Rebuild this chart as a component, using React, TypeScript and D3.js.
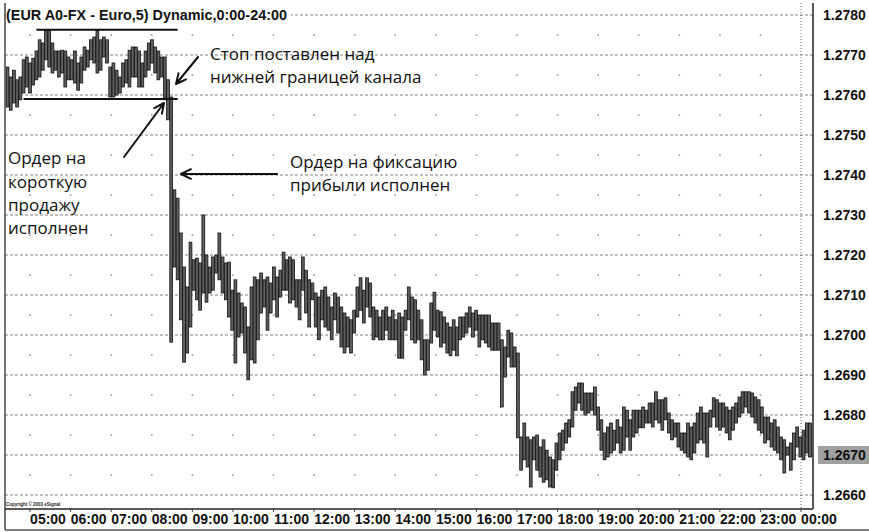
import React from 'react';
import * as d3 from 'd3';

const title = '(EUR A0-FX - Euro,5) Dynamic,0:00-24:00';
const copyright = 'Copyright © 2003 eSignal';
const priceTicks = [1.278, 1.277, 1.276, 1.275, 1.274, 1.273, 1.272, 1.271, 1.27, 1.269, 1.268, 1.267, 1.266];
const midLevels = [1.2775, 1.2765, 1.2755, 1.2745, 1.2735, 1.2725, 1.2715, 1.2705, 1.2695, 1.2685, 1.2675, 1.2665];
const hours = [5, 6, 7, 8, 9, 10, 11, 12, 13, 14, 15, 16, 17, 18, 19, 20, 21, 22, 23, 24];
const hourLabels = ['05:00', '06:00', '07:00', '08:00', '09:00', '10:00', '11:00', '12:00', '13:00', '14:00', '15:00', '16:00', '17:00', '18:00', '19:00', '20:00', '21:00', '22:00', '23:00', '00:00'];
const dotHours = [5, 6, 7, 8, 9, 10, 11, 12, 13, 14, 15, 16, 17, 18, 19, 20, 21, 22, 23];
const lastPrice = 1.267;

// channel
const channelTop = 1.27763;
const channelBottom = 1.2759;
const channelTopStart = 9;
const channelBottomStart = 5;
const channelEnd = 53;

// 5-minute bars: highs and lows
const highs = [
  1.2767, 1.27645, 1.27662, 1.27638, 1.27645, 1.27688, 1.27695, 1.2768, 1.27692, 1.2771,
  1.27738, 1.2773, 1.27762, 1.27762, 1.2773, 1.2771, 1.2771, 1.27712, 1.2771, 1.27695,
  1.27688, 1.2771, 1.2768, 1.27695, 1.2772, 1.27712, 1.27738, 1.27745, 1.27762, 1.27738,
  1.27745, 1.27738, 1.2767, 1.2768, 1.27662, 1.27645, 1.2768, 1.27688, 1.27712, 1.2772,
  1.2772, 1.2771, 1.2768, 1.2771, 1.2773, 1.27738, 1.2772, 1.2771, 1.27695, 1.27695,
  1.27638, 1.27595,
  // after the break
  1.27363, 1.27342, 1.27255, 1.2717, 1.2712, 1.27232, 1.27188, 1.27192, 1.2718, 1.273,
  1.272, 1.2717, 1.27195, 1.272, 1.27255, 1.27195, 1.2718, 1.27182, 1.27112, 1.27138,
  1.27105, 1.2708, 1.2707, 1.2702, 1.2712, 1.27145, 1.27138, 1.27155, 1.27138, 1.27145,
  1.2713, 1.2717, 1.27145, 1.27162, 1.27207, 1.27188, 1.27195, 1.27188, 1.27138, 1.27138,
  1.27195, 1.27162, 1.27138, 1.2713, 1.27105, 1.27095, 1.27112, 1.2712, 1.27095, 1.2707,
  1.27105, 1.27095, 1.2707, 1.27055, 1.27045, 1.27038, 1.27062,
  1.2712, 1.27143, 1.27112, 1.27143, 1.2713, 1.2707, 1.27062, 1.27045, 1.27062, 1.2707,
  1.27045, 1.27062, 1.27038, 1.27055, 1.27045, 1.27062, 1.2712, 1.27095, 1.27088, 1.27062,
  1.27038, 1.26988, 1.26988, 1.2708, 1.27107, 1.27062, 1.27058, 1.27045, 1.2703, 1.2702,
  1.27038, 1.2702, 1.27045, 1.27045, 1.27055, 1.2707, 1.27055, 1.27062, 1.2705, 1.2705,
  1.2705, 1.2705, 1.2703, 1.2703, 1.2703, 1.26988, 1.2697, 1.27012, 1.27005, 1.2697,
  // the drop after 16:00
  1.26955, 1.26745, 1.2678, 1.26745, 1.26738, 1.26745, 1.2675, 1.2672, 1.26738, 1.26712,
  1.26695, 1.26688, 1.2673, 1.26755, 1.26762, 1.2678, 1.26788, 1.26858, 1.2687, 1.2688,
  1.2688, 1.26855, 1.26855, 1.26855, 1.2687, 1.2682, 1.26788, 1.26755, 1.2677, 1.2678,
  1.26762, 1.26788, 1.2677, 1.2682, 1.26812, 1.26788, 1.26812, 1.26812, 1.26812, 1.2682,
  1.26812, 1.2683,
  1.2683, 1.26858, 1.26838, 1.26838, 1.26843, 1.26805, 1.26788, 1.2678, 1.2678, 1.26755,
  1.26755, 1.2678, 1.2677, 1.2678, 1.26805, 1.2682, 1.26805, 1.26805, 1.26812, 1.26843,
  1.26838, 1.2683, 1.2683, 1.2682, 1.26812, 1.2682, 1.2683, 1.26845, 1.26858, 1.26858,
  1.26858, 1.26855, 1.26845, 1.26838, 1.2682, 1.26795, 1.26795, 1.2678, 1.26788, 1.2677,
  1.26745, 1.26738, 1.2672, 1.2673, 1.26755, 1.2677, 1.26745, 1.26762, 1.2678, 1.2678,
];
const lows = [
  1.2757, 1.27562, 1.2758, 1.2757, 1.27588, 1.27605, 1.2762, 1.27605, 1.27625, 1.27638,
  1.27645, 1.27662, 1.27688, 1.2767, 1.27655, 1.27662, 1.27645, 1.27655, 1.2762, 1.27638,
  1.27638, 1.2763, 1.27612, 1.2763, 1.27662, 1.2767, 1.27688, 1.2768, 1.27655, 1.27662,
  1.27695, 1.2768, 1.27595, 1.27595, 1.276, 1.27605, 1.2762, 1.2763, 1.2762, 1.27645,
  1.27645, 1.2762, 1.2762, 1.27645, 1.27662, 1.2768, 1.27655, 1.27638, 1.27645, 1.27588,
  1.27538, 1.26982,
  1.2717, 1.27138, 1.27038, 1.26932, 1.26955, 1.2702, 1.27112, 1.27088, 1.27062, 1.27105,
  1.27082, 1.27105, 1.27112, 1.27155, 1.27138, 1.27105, 1.27088, 1.27045, 1.27012, 1.2693,
  1.26995, 1.27005, 1.26955, 1.26888, 1.26938, 1.2693, 1.26988, 1.27055, 1.2707, 1.27012,
  1.27055, 1.27088, 1.27045, 1.27095, 1.27112, 1.27112, 1.2708, 1.27088, 1.2707, 1.27038,
  1.27112, 1.27055, 1.2702, 1.27088, 1.2702, 1.26988, 1.27038, 1.2702, 1.27012, 1.26988,
  1.27038, 1.27005, 1.2697, 1.26955, 1.2697, 1.26955, 1.27005,
  1.27045, 1.27062, 1.2703, 1.2707, 1.27045, 1.26988, 1.26995, 1.26988, 1.26988, 1.27012,
  1.26988, 1.26988, 1.26988, 1.26942, 1.26942, 1.27012, 1.27038, 1.26988, 1.2698, 1.26988,
  1.26938, 1.269, 1.26912, 1.2698, 1.27012, 1.26995, 1.2697, 1.2698, 1.26955, 1.26948,
  1.26962, 1.26948, 1.26988, 1.26995, 1.27005, 1.2702, 1.26995, 1.27012, 1.2697, 1.26988,
  1.2698, 1.2697, 1.26962, 1.26962, 1.26962, 1.2682, 1.26895, 1.26945, 1.2692, 1.2692,
  1.26743, 1.26662, 1.26688, 1.2667, 1.2662, 1.26688, 1.26662, 1.26645, 1.26632, 1.26638,
  1.2662, 1.26618, 1.26662, 1.26688, 1.26712, 1.2673, 1.26745, 1.2677, 1.26812, 1.2683,
  1.26812, 1.268, 1.26805, 1.26812, 1.268, 1.26762, 1.26712, 1.26688, 1.26695, 1.26705,
  1.26712, 1.2673, 1.26705, 1.26712, 1.26745, 1.26712, 1.26745, 1.26755, 1.26768, 1.26768,
  1.2678, 1.2678,
  1.2677, 1.26788, 1.2678, 1.26762, 1.26788, 1.26755, 1.26738, 1.26745, 1.2672, 1.26712,
  1.26705, 1.26695, 1.26688, 1.26705, 1.2673, 1.26738, 1.2673, 1.26695, 1.2677, 1.26795,
  1.2677, 1.26762, 1.2677, 1.26755, 1.26738, 1.26762, 1.2678, 1.26795, 1.26805, 1.2682,
  1.26805, 1.26795, 1.2678, 1.26762, 1.26755, 1.2673, 1.26738, 1.2672, 1.26712, 1.26705,
  1.26688, 1.26655, 1.267, 1.26662, 1.26688, 1.2672, 1.26695, 1.26688, 1.26705, 1.26695,
];

const FONT_AXIS = '"Liberation Sans", Arial, sans-serif';
const FONT_NOTE = '"Open Sans", "Noto Sans", sans-serif';

function Arrow({ x1, y1, x2, y2 }: { x1: number; y1: number; x2: number; y2: number }) {
  const ang = Math.atan2(y2 - y1, x2 - x1);
  const len = 11;
  const spread = 0.45;
  const a1 = ang + Math.PI - spread;
  const a2 = ang + Math.PI + spread;
  const d = `M${x1},${y1}L${x2},${y2}M${x2 + len * Math.cos(a1)},${y2 + len * Math.sin(a1)}L${x2},${y2}L${x2 + len * Math.cos(a2)},${y2 + len * Math.sin(a2)}`;
  return <path d={d} fill="none" stroke="#111" strokeWidth={2} strokeLinecap="round" strokeLinejoin="round" />;
}

export default function App() {
  const W = 869;
  const H = 532;
  const left = 5;
  const right = 813;
  const bottom = 509;
  const n = highs.length;
  const y = d3.scaleLinear().domain([1.266, 1.278]).range([495, 15]);
  const x = d3.scaleLinear().domain([0, n - 1]).range([7.5, 810]);
  const t = d3.scaleLinear().domain([5, 24]).range([30, 801]);
  const barW = 2.8;
  const fmt = d3.format('.4f');

  return (
    <svg width={W} height={H} style={{ position: 'absolute', left: 0, top: 0, background: '#fff' }}>
      <rect x={0} y={0} width={W} height={H} fill="#fff" />
      {/* horizontal dashed grid */}
      {priceTicks.map((p) => (
        <line key={'g' + p} x1={left} x2={right} y1={y(p)} y2={y(p)} stroke="#808080" strokeWidth={1} strokeDasharray="3 2" />
      ))}
      {/* dots grid */}
      {midLevels.map((p) =>
        dotHours.map((h) => (
          <rect key={'d' + p + '-' + h} x={t(h) - 0.75} y={y(p) - 0.75} width={1.6} height={1.6} fill="#9a9a9a" />
        ))
      )}
      {/* day boundary dotted line */}
      <line x1={t(24)} x2={t(24)} y1={3} y2={bottom} stroke="#666" strokeWidth={1} strokeDasharray="1 2" />

      {/* bars */}
      {highs.map((hi, i) => (
        <rect
          key={'b' + i}
          x={x(i) - barW / 2}
          y={y(hi)}
          width={barW}
          height={Math.max(1, y(lows[i]) - y(hi))}
          fill="#5e5e5e"
          stroke="#111"
          strokeWidth={0.8}
        />
      ))}

      {/* channel lines */}
      <line x1={x(channelTopStart)} x2={x(channelEnd)} y1={y(channelTop)} y2={y(channelTop)} stroke="#111" strokeWidth={2} />
      <line x1={x(channelBottomStart)} x2={x(channelEnd)} y1={y(channelBottom)} y2={y(channelBottom)} stroke="#111" strokeWidth={2} />

      {/* title */}
      <rect x={left + 1} y={6} width={285} height={18} fill="#fff" />
      <text x={6} y={20} fontFamily={FONT_AXIS} fontWeight="bold" fontSize={14.4} fill="#111">{title}</text>

      {/* annotations */}
      <text fontFamily={FONT_NOTE} fontSize={17} fill="#111">
        <tspan x={210} y={60}>Стоп поставлен над</tspan>
        <tspan x={210} y={83}>нижней границей канала</tspan>
      </text>
      <Arrow x1={198} y1={57} x2={176} y2={84} />

      <text fontFamily={FONT_NOTE} fontSize={17} fill="#111">
        <tspan x={8} y={164}>Ордер на</tspan>
        <tspan x={8} y={188}>короткую</tspan>
        <tspan x={8} y={211}>продажу</tspan>
        <tspan x={8} y={234}>исполнен</tspan>
      </text>
      <Arrow x1={124} y1={157} x2={164} y2={103} />

      <text fontFamily={FONT_NOTE} fontSize={17} fill="#111">
        <tspan x={290} y={168}>Ордер на фиксацию</tspan>
        <tspan x={290} y={191}>прибыли исполнен</tspan>
      </text>
      <Arrow x1={277} y1={174} x2={181} y2={174} />

      {/* frame */}
      <line x1={left} x2={left} y1={3} y2={530} stroke="#444" strokeWidth={1.5} />
      <line x1={right} x2={right} y1={3} y2={bottom} stroke="#222" strokeWidth={1.5} />
      <line x1={left} x2={right} y1={bottom} y2={bottom} stroke="#222" strokeWidth={1.5} />
      <line x1={left} x2={W} y1={530} y2={530} stroke="#555" strokeWidth={1.5} />
      {hours.map((h) => (
        <line key={'tk' + h} x1={t(h)} x2={t(h)} y1={bottom} y2={bottom + 3} stroke="#444" strokeWidth={1} />
      ))}

      {/* copyright */}
      <text x={6} y={506} fontFamily={FONT_AXIS} fontWeight="bold" fontSize={4.5} fill="#222">{copyright}</text>

      {/* last price marker */}
      <rect x={818} y={y(lastPrice) - 9} width={51} height={18} fill="#a0a0a0" />

      {/* right axis labels */}
      {priceTicks.map((p) => (
        <text key={'l' + p} x={823} y={y(p) + 5} fontFamily={FONT_AXIS} fontWeight="bold" fontSize={14} fill="#111">
          {fmt(p)}
        </text>
      ))}

      {/* bottom axis labels */}
      {hours.map((h, i) => (
        <text key={'h' + h} x={t(h) + 18} y={524} textAnchor="middle" fontFamily={FONT_AXIS} fontWeight="bold" fontSize={14} fill="#111">
          {hourLabels[i]}
        </text>
      ))}
    </svg>
  );
}
